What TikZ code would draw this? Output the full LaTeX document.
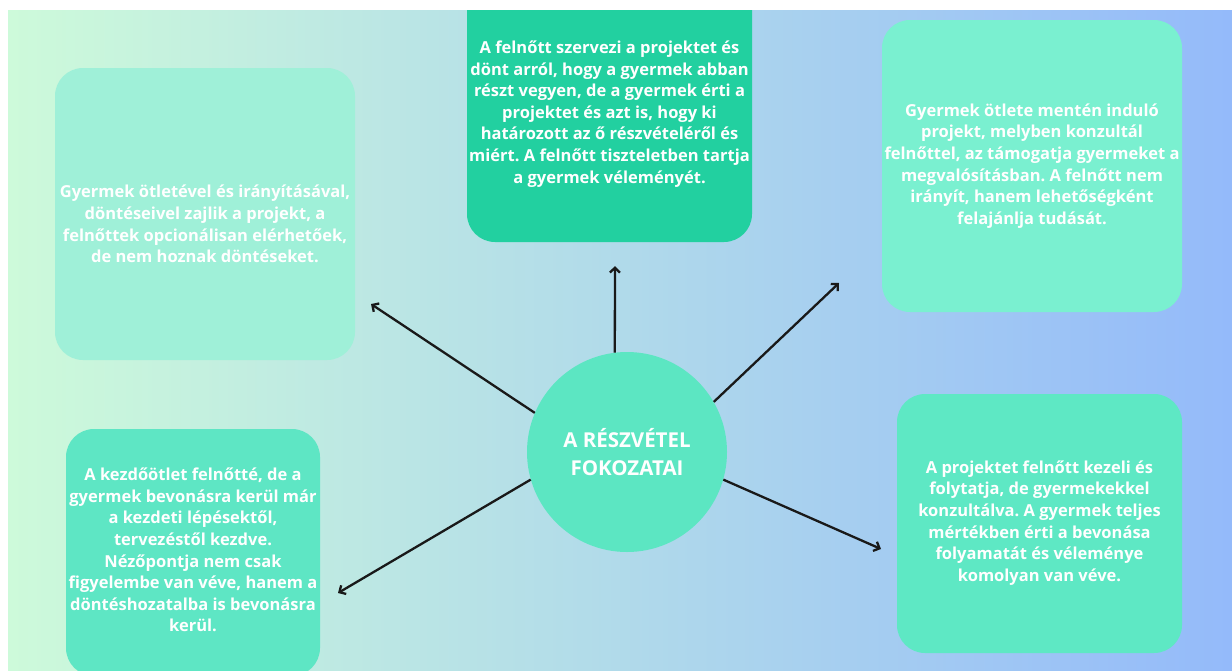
\documentclass[tikz,border=0pt]{standalone}
\usepackage{fontspec}
\setmainfont{Open Sans}
\frenchspacing
\usetikzlibrary{arrows.meta}
\definecolor{bgleft}{RGB}{205,250,218}
\definecolor{bgright}{RGB}{148,186,250}
\definecolor{tlc}{HTML}{9FF0D8}
\definecolor{tcc}{HTML}{22D0A0}
\definecolor{trc}{HTML}{7AF0D0}
\definecolor{blc}{HTML}{5EE6C4}
\definecolor{brc}{HTML}{5EE8C4}
\definecolor{cc}{HTML}{5CE6C2}
\tikzset{
  card/.style={rectangle, rounded corners=28pt, inner sep=0pt, draw=none},
  cardtext/.style={align=center, text=white, font=\bfseries\fontsize{16.5}{21.6}\selectfont, inner sep=0pt},
  hub/.style={circle, fill=cc, minimum size=200pt, inner sep=0pt, align=center, text=white, font=\bfseries\fontsize{20.5}{28}\selectfont},
  link/.style={line width=2.3pt, draw=black!90, -{Straight Barb[length=5pt,width=10pt]}}
}
\begin{document}
\begin{tikzpicture}[x=1pt,y=-1pt]
\useasboundingbox (0,0) rectangle (1232,670);
\begin{scope}
\clip (8,10) rectangle (1232,670);
\shade[left color=bgleft, right color=bgright] (8,10) rectangle (1232,670);
\node[card, fill=tlc, minimum width=300pt, minimum height=292pt] (tl) at (205,214) {};
\node[card, fill=tcc, minimum width=285pt, minimum height=272pt] (tc) at (609.5,106) {};
\node[card, fill=trc, minimum width=300pt, minimum height=292pt] (tr) at (1032,166) {};
\node[card, fill=blc, minimum width=254pt, minimum height=247pt] (bl) at (193,552.5) {};
\node[card, fill=brc, minimum width=285pt, minimum height=259pt] (br) at (1039.5,523.5) {};
\end{scope}
\node[cardtext] (tlt) at (205,224) {Gyermek ötletével és irányításával,\\döntéseivel zajlik a projekt, a\\felnőttek opcionálisan elérhetőek,\\de nem hoznak döntéseket.};
\node[cardtext] (tct) at (609.5,114) {A felnőtt szervezi a projektet és\\dönt arról, hogy a gyermek abban\\részt vegyen, de a gyermek érti a\\projektet és azt is, hogy ki\\határozott az ő részvételéről és\\miért. A felnőtt tiszteletben tartja\\a gyermek véleményét.};
\node[cardtext] (trt) at (1032,166) {Gyermek ötlete mentén induló\\projekt, melyben konzultál\\felnőttel, az támogatja gyermeket a\\megvalósításban. A felnőtt nem\\irányít, hanem lehetőségként\\felajánlja tudását.};
\node[cardtext] (blt) at (193,550) {A kezdőötlet felnőtté, de a\\gyermek bevonásra kerül már\\a kezdeti lépésektől,\\tervezéstől kezdve.\\Nézőpontja nem csak\\figyelembe van véve, hanem a\\döntéshozatalba is bevonásra\\kerül.};
\node[cardtext] (brt) at (1039.5,523) {A projektet felnőtt kezeli és\\folytatja, de gyermekekkel\\konzultálva. A gyermek teljes\\mértékben érti a bevonása\\folyamatát és véleménye\\komolyan van véve.};
\node[hub] (hub) at (627,452) {A RÉSZVÉTEL\\FOKOZATAI};
\coordinate (etl) at (371,304);
\coordinate (etc) at (615,266);
\coordinate (etr) at (839,283);
\coordinate (ebl) at (338,593);
\coordinate (ebr) at (881,549);
\draw[link] (hub.157) -- (etl);
\draw[link] (hub.97) -- (etc);
\draw[link] (hub.30) -- (etr);
\draw[link] (hub.196) -- (ebl);
\draw[link] (hub.344) -- (ebr);
\end{tikzpicture}
\end{document}
